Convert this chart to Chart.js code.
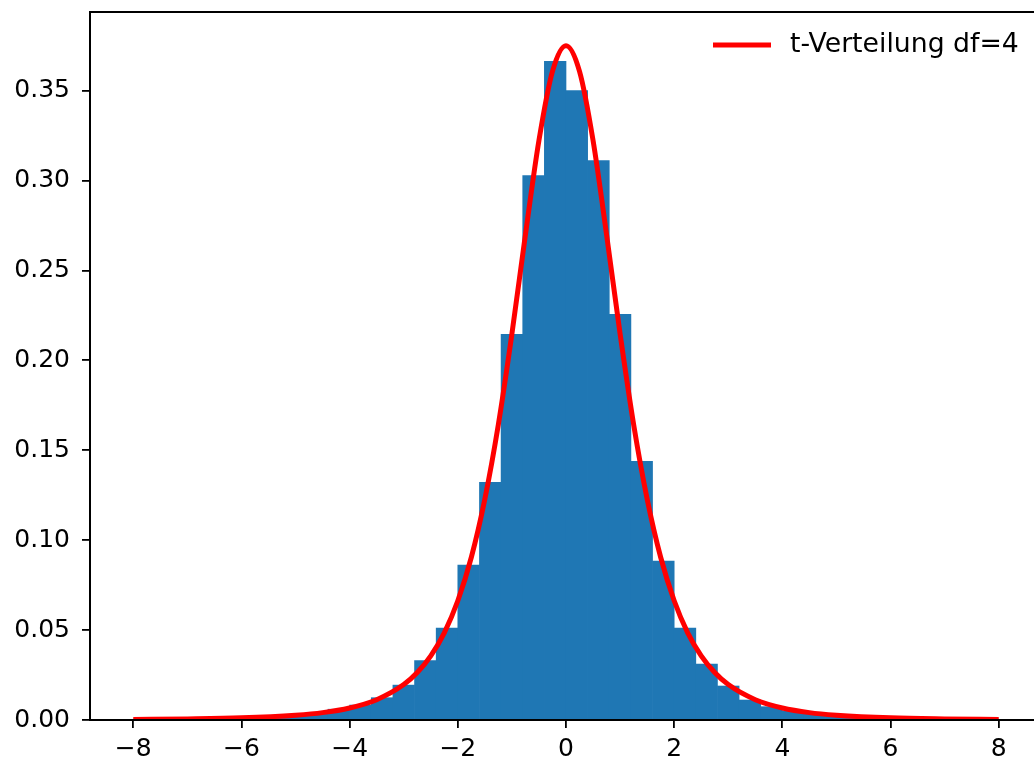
<!DOCTYPE html>
<html>
<head>
<meta charset="utf-8">
<script src="https://cdn.jsdelivr.net/npm/chart.js@4"></script>
<style>
  html, body { margin: 0; padding: 0; background: #fff; overflow: hidden; }
  #wrap { width: 1042px; height: 765px; }
</style>
</head>
<body>
<div id="wrap"><canvas id="myChart"></canvas></div>
<script>
// Histogram: bin centres (bins of width 0.4 between -8 and 8) and densities
var binCenters = [-7.8,-7.4,-7.0,-6.6,-6.2,-5.8,-5.4,-5.0,-4.6,-4.2,-3.8,-3.4,-3.0,-2.6,-2.2,-1.8,-1.4,-1.0,-0.6,-0.2,
                  0.2,0.6,1.0,1.4,1.8,2.2,2.6,3.0,3.4,3.8,4.2,4.6,5.0,5.4,5.8,6.2,6.6,7.0,7.4,7.8];
var density = [0.0003,0.0004,0.0006,0.0007,0.0010,0.0013,0.0019,0.0027,0.0040,0.0060,0.0083,0.0124,0.0194,0.0330,0.0511,0.0861,0.1322,0.2144,0.3028,0.3663,
               0.3500,0.3111,0.2256,0.1439,0.0884,0.0511,0.0311,0.0189,0.0111,0.0074,0.0050,0.0036,0.0025,0.0018,0.0013,0.0010,0.0007,0.0005,0.0004,0.0003];

// Points
var curveX = [-8,-7,-6,-5,-4.5,-4,-3.5,-3,-2.75,-2.5,-2.25,-2,-1.75,-1.5,-1.25,-1,-0.75,-0.5,-0.25,0,
              0.25,0.5,0.75,1,1.25,1.5,1.75,2,2.25,2.5,2.75,3,3.5,4,4.5,5,6,7,8];
var curveY = [0.0003,0.0006,0.0012,0.0027,0.0041,0.0067,0.0113,0.0197,0.0264,0.0357,0.0485,0.0663,0.0905,0.1229,0.1644,0.2147,0.2699,0.3223,0.3607,0.375,
              0.3607,0.3223,0.2699,0.2147,0.1644,0.1229,0.0905,0.0663,0.0485,0.0357,0.0264,0.0197,0.0113,0.0067,0.0041,0.0027,0.0012,0.0006,0.0003];

// Tick labels
var xTicks = [-8,-6,-4,-2,0,2,4,6,8];
var yTicks = [0,0.05,0.10,0.15,0.20,0.25,0.30,0.35];

var legendLabel = "t-Verteilung df=4";

var font = { family: "'DejaVu Sans'", size: 25 };

// matplotlib-like frame and legend
var framePlugin = {
  id: 'frame',
  afterDatasetsDraw: function(chart) {
    var a = chart.chartArea, c = chart.ctx;
    c.save();
    c.strokeStyle = '#000';
    c.lineWidth = 2;
    c.strokeRect(a.left, a.top, a.right - a.left, a.bottom - a.top);
    // legend
    var ly = a.top + 33;
    c.strokeStyle = 'red';
    c.lineWidth = 5;
    c.beginPath();
    c.moveTo(a.right - 329, ly);
    c.lineTo(a.right - 271, ly);
    c.stroke();
    c.fillStyle = '#000';
    c.font = "26.7px 'DejaVu Sans'";
    c.textBaseline = 'middle';
    c.fillText(legendLabel, a.right - 252, ly);
    c.restore();
  }
};

var ctx = document.getElementById("myChart");

var myChart = new Chart(ctx, {
  type: 'bar',
  data: {
    datasets: [
      {
        type: 'bar',
        data: binCenters.map(function(x, i) { return { x: x, y: density[i] }; }),
        backgroundColor: '#1f77b4',
        borderWidth: 0,
        barPercentage: 1,
        categoryPercentage: 1,
        order: 2
      },
      {
        type: 'line',
        label: legendLabel,
        data: curveX.map(function(x, i) { return { x: x, y: curveY[i] }; }),
        borderColor: 'red',
        borderWidth: 5,
        pointRadius: 0,
        cubicInterpolationMode: 'monotone',
        fill: false,
        order: 1
      }
    ]
  },
  options: {
    responsive: true,
    maintainAspectRatio: false,
    animation: false,
    layout: { padding: { top: 12, right: 0, left: 0, bottom: 0 } },
    plugins: { legend: { display: false }, tooltip: { enabled: false } },
    scales: {
      x: {
        type: 'linear',
        min: -8.8,
        max: 8.8,
        offset: false,
        afterBuildTicks: function(s) { s.ticks = xTicks.map(function(v) { return { value: v }; }); },
        afterFit: function(s) { s.height = 45; s.paddingLeft = 0; s.paddingRight = 0; },
        grid: { display: true, offset: false, drawOnChartArea: false, drawTicks: true, tickLength: 8, color: '#000', lineWidth: 1.8 },
        border: { display: false },
        ticks: {
          color: '#000',
          font: font,
          padding: 6,
          maxRotation: 0,
          autoSkip: false,
          callback: function(v) { return v < 0 ? '\u2212' + Math.abs(v) : String(v); }
        }
      },
      y: {
        min: 0,
        max: 0.3937,
        afterBuildTicks: function(s) { s.ticks = yTicks.map(function(v) { return { value: v }; }); },
        afterFit: function(s) { s.width = 90; s.paddingTop = 0; s.paddingBottom = 0; },
        grid: { display: true, drawOnChartArea: false, drawTicks: true, tickLength: 8, color: '#000', lineWidth: 1.8 },
        border: { display: false },
        ticks: {
          color: '#000',
          font: font,
          padding: 12,
          autoSkip: false,
          callback: function(v) { return v.toFixed(2); }
        }
      }
    }
  },
  plugins: [framePlugin]
});
</script>
</body>
</html>
